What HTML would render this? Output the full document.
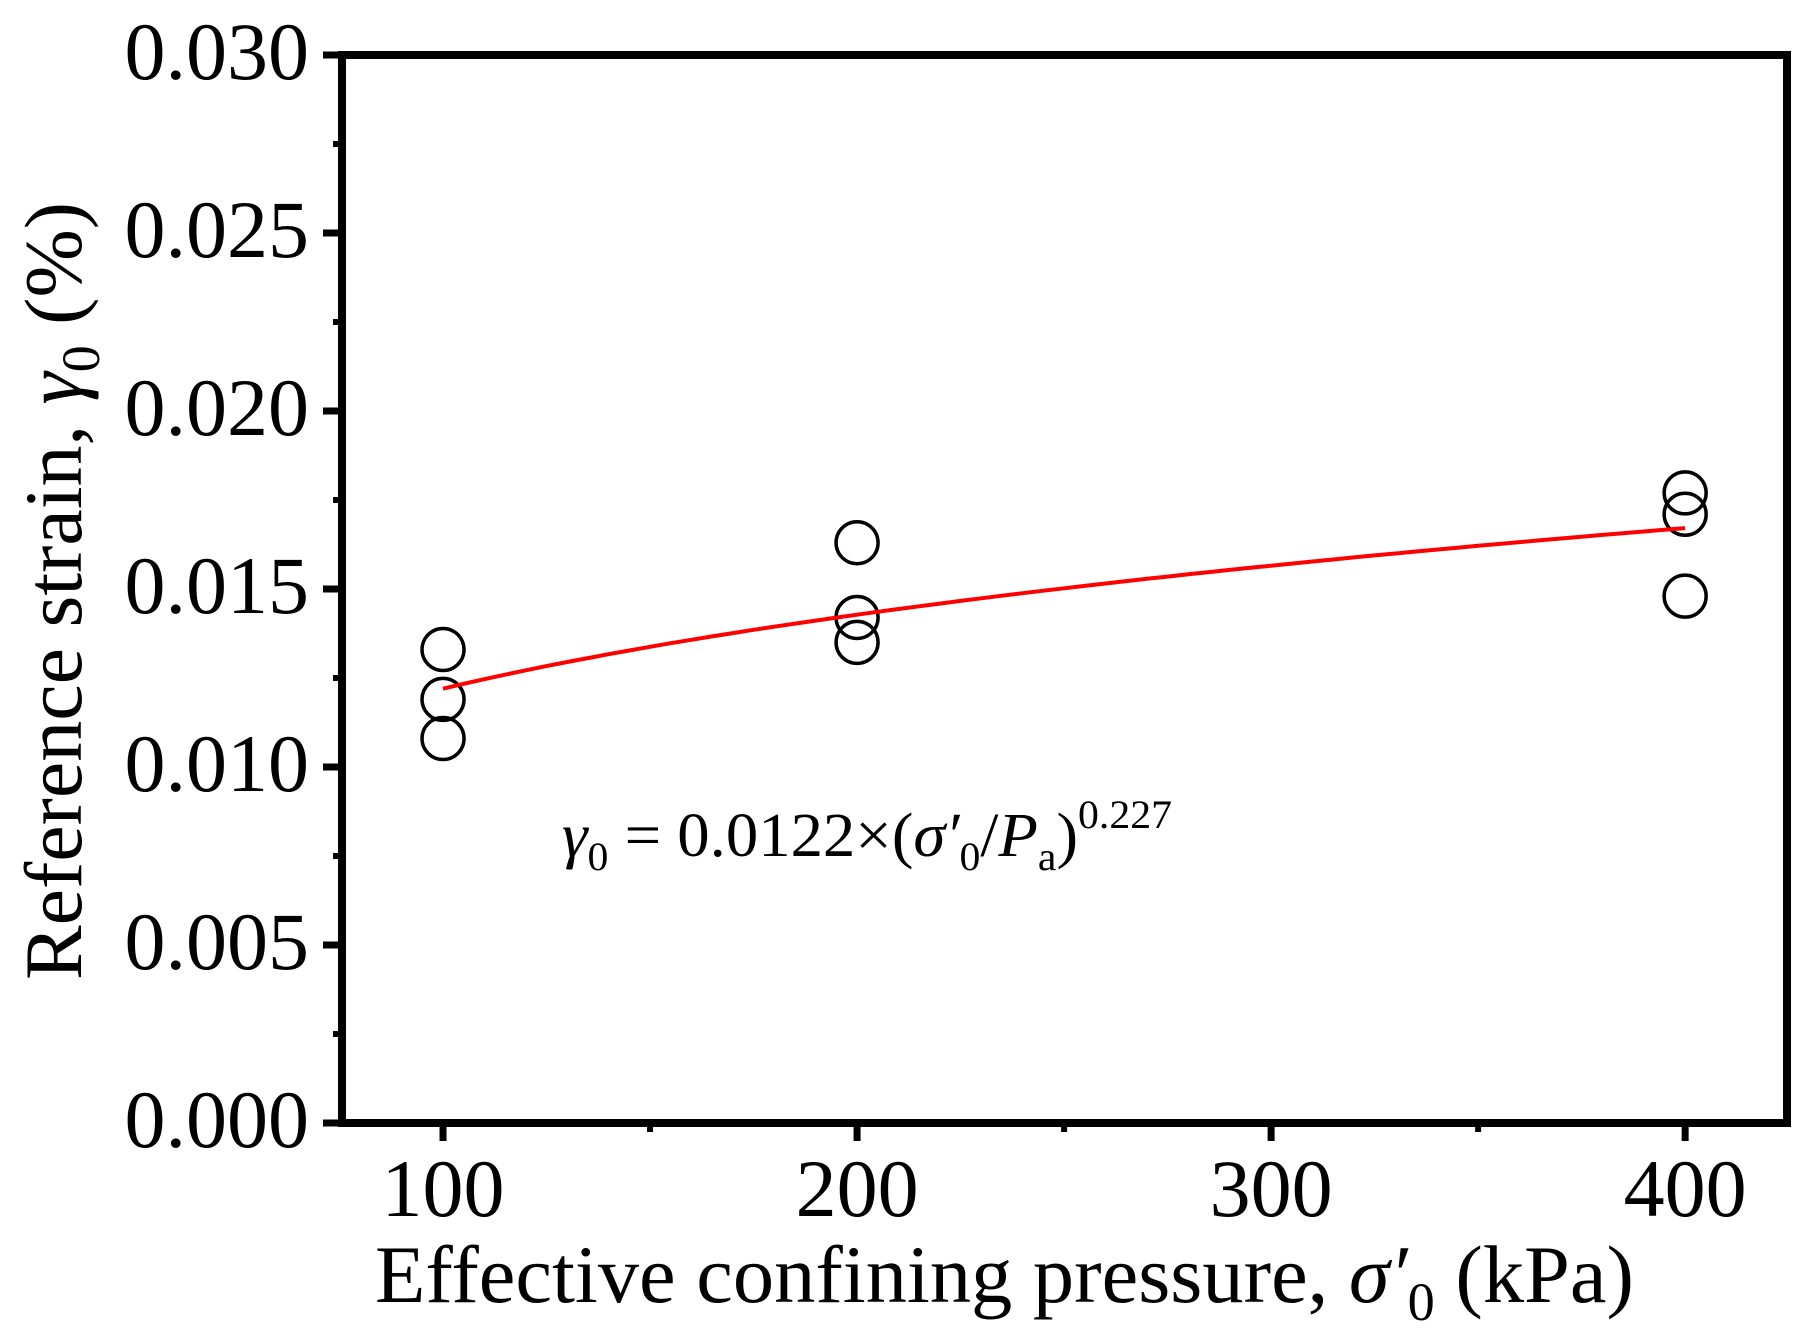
<!DOCTYPE html>
<html><head><meta charset="utf-8"><style>
html,body{margin:0;padding:0;background:#fff}
svg{display:block}
text{font-family:"Liberation Serif",serif;fill:#000}
</style></head><body>
<svg id="chart" width="1807" height="1334" viewBox="0 0 1807 1334" xmlns="http://www.w3.org/2000/svg">
<g id="axes"></g>
<g id="marks"></g>
<text x="562" y="856" font-size="62" textLength="610" lengthAdjust="spacingAndGlyphs"><tspan font-style="italic">γ</tspan><tspan font-size="40" dy="14">0</tspan><tspan dy="-14"> = 0.0122×(</tspan><tspan font-style="italic">σ′</tspan><tspan font-size="40" dy="14">0</tspan><tspan dy="-14">/</tspan><tspan font-style="italic">P</tspan><tspan font-size="40" dy="14">a</tspan><tspan dy="-14">)</tspan><tspan font-size="40" dy="-28">0.227</tspan></text>
<text x="375" y="1302" font-size="82" textLength="1259" lengthAdjust="spacingAndGlyphs">Effective confining pressure, <tspan font-style="italic">σ′</tspan><tspan font-size="54" dy="18">0</tspan><tspan dy="-18"> (kPa)</tspan></text>
<text transform="translate(81,980) rotate(-90)" x="0" y="0" font-size="82" textLength="778" lengthAdjust="spacingAndGlyphs">Reference strain, <tspan font-style="italic">γ</tspan><tspan font-size="54" dy="18">0</tspan><tspan dy="-18"> (%)</tspan></text>
</svg>
<script>
const xValues = [100,100,100,200,200,200,400,400,400];
const yValues = [0.0133,0.0119,0.0108,0.0163,0.0142,0.0135,0.0177,0.0171,0.0148];
const xTicks = [100,200,300,400];
const xMinor = [150,250,350];
const yTicks = [0,0.005,0.010,0.015,0.020,0.025,0.030];
const yTickLabels = ["0.000","0.005","0.010","0.015","0.020","0.025","0.030"];
const yMinor = [0.0025,0.0075,0.0125,0.0175,0.0225,0.0275];
const fitCoef = [0.0122];
const fitExp = [0.227];
const fitPa = [100];

const L=342,R=1787,T=55,B=1123;
const xMin=75.6,xMax=424.6,yMin=0,yMax=0.030;
function sx(v){return L+(v-xMin)/(xMax-xMin)*(R-L);}
function sy(v){return B-(v-yMin)/(yMax-yMin)*(B-T);}
const NS="http://www.w3.org/2000/svg";
function mk(tag,attrs,parent){const e=document.createElementNS(NS,tag);for(const k in attrs)e.setAttribute(k,attrs[k]);parent.appendChild(e);return e;}
const axes=document.getElementById('axes'), marks=document.getElementById('marks');

const frame=mk('rect',{x:L,y:T,width:R-L,height:B-T,fill:'none',stroke:'#000','stroke-width':8},axes);



yTicks.forEach((v,i)=>{
  const t=mk('line',{x1:323,x2:L,y1:sy(v),y2:sy(v),stroke:'#000','stroke-width':7},axes);
  
  
  const lb=mk('text',{x:309,y:sy(v)+24,'font-size':82,'text-anchor':'end'},axes);
  lb.textContent=yTickLabels[i];
  
  
});
yMinor.forEach(v=>{
  const t=mk('line',{x1:333,x2:L,y1:sy(v),y2:sy(v),stroke:'#000','stroke-width':6},axes);
  
  
});
xTicks.forEach(v=>{
  const t=mk('line',{x1:sx(v),x2:sx(v),y1:B,y2:1141,stroke:'#000','stroke-width':7},axes);
  
  
  const lb=mk('text',{x:sx(v),y:1216,'font-size':82,'text-anchor':'middle'},axes);
  lb.textContent=String(v);
  
  
});
xMinor.forEach(v=>{
  const t=mk('line',{x1:sx(v),x2:sx(v),y1:B,y2:1132,stroke:'#000','stroke-width':6},axes);
  
  
});

xValues.forEach((x,i)=>{
  const c=mk('circle',{cx:sx(x),cy:sy(yValues[i]),r:21,fill:'none',stroke:'#000','stroke-width':3.5},marks);
  
  
});

let d='';
for(let k=0;k<=60;k++){
  const x=100+k*5;
  const y=fitCoef[0]*Math.pow(x/fitPa[0],fitExp[0]);
  d+=(k?'L':'M')+sx(x).toFixed(1)+' '+sy(y).toFixed(1);
}
const fit=mk('path',{d:d,fill:'none',stroke:'#ff0000','stroke-width':4},marks);


</script>
</body></html>
